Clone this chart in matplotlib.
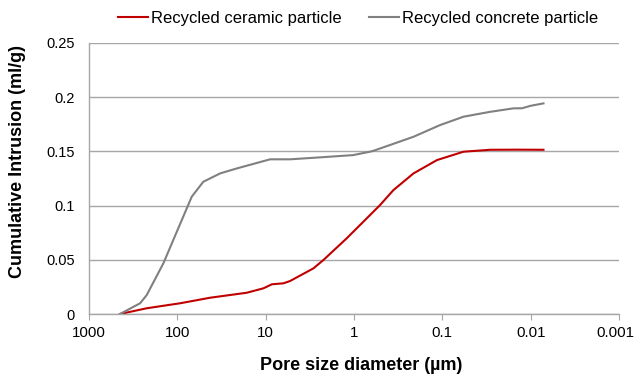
import matplotlib
matplotlib.use("Agg")
import matplotlib.pyplot as plt
import matplotlib.transforms as mtransforms
from matplotlib.ticker import FixedLocator, FixedFormatter, NullLocator

plt.rcParams['font.family'] = ['Liberation Sans', 'DejaVu Sans']

# Pore size diameter (um) and cumulative intrusion (ml/g)
ceramic_d = [446, 222, 93, 42.7, 16.4, 10.6, 8.5, 6.3, 5.3, 2.88, 2.22, 1.21,
             0.507, 0.358, 0.212, 0.115, 0.0577, 0.0288, 0.0143, 0.00716]
ceramic_v = [0.0, 0.0053, 0.0099, 0.015, 0.0196, 0.0237, 0.0274, 0.0283, 0.0304,
             0.0421, 0.0498, 0.0698, 0.1005, 0.1143, 0.1297, 0.142, 0.1497,
             0.1515, 0.1516, 0.1515]

concrete_d = [446, 264, 222, 144, 89, 68.7, 50.8, 32.8, 21.2, 8.9, 5.3, 2.42,
              1.02, 0.66, 0.6, 0.212, 0.106, 0.0577, 0.0288, 0.0157, 0.0125,
              0.0101, 0.00716]
concrete_v = [0.0, 0.0099, 0.0175, 0.0467, 0.0867, 0.1082, 0.122, 0.1297, 0.1343,
              0.1427, 0.1427, 0.1445, 0.1466, 0.1497, 0.1506, 0.1635, 0.1743,
              0.182, 0.1865, 0.1897, 0.1898, 0.192, 0.1943]

x_ticks = [1000, 100, 10, 1, 0.1, 0.01, 0.001]
x_labels = ["1000", "100", "10", "1", "0.1", "0.01", "0.001"]
y_ticks = [0, 0.05, 0.1, 0.15, 0.2, 0.25]
y_labels = ["0", "0.05", "0.1", "0.15", "0.2", "0.25"]

fig = plt.figure(figsize=(6.36, 3.79), dpi=100)
ax = fig.add_axes([89/636, 1-314/379, 530/636, 271/379])

ax.plot(ceramic_d, ceramic_v, color="#C00000", lw=1.5, label="Recycled ceramic particle")
ax.plot(concrete_d, concrete_v, color="#808080", lw=1.5, label="Recycled concrete particle")

ax.set_xscale("log")
ax.set_xlim(1000, 0.001)
ax.set_ylim(0, 0.25)
ax.xaxis.set_major_locator(FixedLocator(x_ticks))
ax.xaxis.set_major_formatter(FixedFormatter(x_labels))
ax.xaxis.set_minor_locator(NullLocator())
ax.yaxis.set_major_locator(FixedLocator(y_ticks))
ax.yaxis.set_major_formatter(FixedFormatter(y_labels))

ax.grid(axis="y", color="#A6A6A6", lw=1.0)
ax.set_axisbelow(True)
for s in ["top", "right"]:
    ax.spines[s].set_visible(False)
for s in ["left", "bottom"]:
    ax.spines[s].set_color("#A6A6A6")
    ax.spines[s].set_linewidth(1.0)

ax.tick_params(axis="x", direction="out", length=4, color="#A6A6A6", labelsize=10.8, pad=4.5, labelcolor="#000000")
ax.tick_params(axis="y", length=0, labelsize=10.5, pad=10, labelcolor="#000000")

# keep the last x tick label inside the figure
fig.canvas.draw()
last = ax.get_xticklabels()[-1]
last.set_transform(last.get_transform() + mtransforms.ScaledTranslation(-4/100, 0, fig.dpi_scale_trans))

ax.set_xlabel("Pore size diameter (µm)", fontsize=13, fontweight="bold")
ax.set_ylabel("Cumulative Intrusion (ml/g)", fontsize=13, fontweight="bold")
ax.xaxis.set_label_coords(0.514, (314 - 366) / 271)
ax.xaxis.label.set_va("center")
ax.yaxis.set_label_coords((18 - 89) / 530, (314 - 161.5) / 271)
ax.yaxis.label.set_va("center")

leg = ax.legend(loc="center", ncol=2, frameon=False, fontsize=12,
                handlelength=1.8, columnspacing=1.6, handletextpad=0.2)
leg.set_bbox_to_anchor((0.5 + (358 - 354) / 530, 1 + (43 - 18.6) / 271), transform=ax.transAxes)

fig.savefig("out.png", dpi=100)
